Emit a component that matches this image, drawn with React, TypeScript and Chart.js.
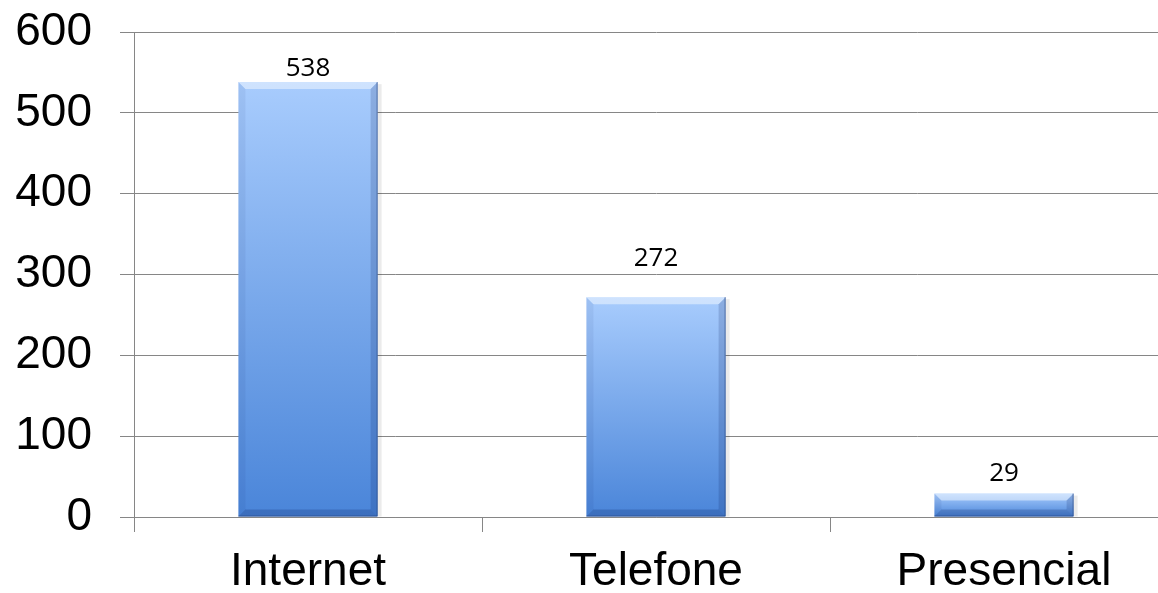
import React, { useEffect, useRef } from "react";
import { Chart, registerables } from "chart.js";

Chart.register(...registerables);

const categories = ["Internet", "Telefone", "Presencial"];
const values = [538, 272, 29];
const yMin = 0;
const yMax = 600;
const yStep = 100;

const AXIS_FONT = '"Liberation Sans", Arial, sans-serif';
const LABEL_FONT = '"Open Sans", "Liberation Sans", sans-serif';
const GRID = "#868686";

function poly(ctx: CanvasRenderingContext2D, pts: number[][], fill: string) {
  ctx.beginPath();
  ctx.moveTo(pts[0][0], pts[0][1]);
  for (let i = 1; i < pts.length; i++) ctx.lineTo(pts[i][0], pts[i][1]);
  ctx.closePath();
  ctx.fillStyle = fill;
  ctx.fill();
}

const bevelPlugin = {
  id: "bevel",
  beforeDatasetsDraw(chart: any) {
    const ctx = chart.ctx as CanvasRenderingContext2D;
    const meta = chart.getDatasetMeta(0);
    ctx.save();
    meta.data.forEach((bar: any) => {
      const { x, y, base, width } = bar.getProps(["x", "y", "base", "width"], true);
      const l = x - width / 2;
      ctx.fillStyle = "rgba(0,0,0,0.08)";
      ctx.fillRect(l + 2, y + 2, width + 2, base - y - 2);
    });
    ctx.restore();
  },
  afterDatasetsDraw(chart: any) {
    const ctx = chart.ctx as CanvasRenderingContext2D;
    const meta = chart.getDatasetMeta(0);
    ctx.save();
    meta.data.forEach((bar: any) => {
      const { x, y, base, width } = bar.getProps(["x", "y", "base", "width"], true);
      const l = x - width / 2;
      const r = x + width / 2;
      const t = y;
      const b = base;
      const h = b - t;
      const d = Math.min(7, h / 3);
      poly(ctx, [[l, t], [r, t], [r - d, t + d], [l + d, t + d]], "rgba(255,255,255,0.45)");
      poly(ctx, [[l, t], [l + d, t + d], [l + d, b - d], [l, b]], "rgba(0,20,80,0.06)");
      poly(ctx, [[r, t], [r, b], [r - d, b - d], [r - d, t + d]], "rgba(0,20,80,0.16)");
      poly(ctx, [[l, b], [l + d, b - d], [r - d, b - d], [r, b]], "rgba(0,20,80,0.2)");
      ctx.strokeStyle = "rgba(40,70,130,0.6)";
      ctx.lineWidth = 1;
      ctx.beginPath();
      ctx.moveTo(r - 0.5, t);
      ctx.lineTo(r - 0.5, b - 0.5);
      ctx.lineTo(l, b - 0.5);
      ctx.stroke();
    });
    ctx.restore();
  },
};

const labelOffsets = [14, 39, 20];

const dataLabelPlugin = {
  id: "dataLabels",
  afterDatasetsDraw(chart: any) {
    const ctx = chart.ctx as CanvasRenderingContext2D;
    const meta = chart.getDatasetMeta(0);
    const data = chart.data.datasets[0].data as number[];
    ctx.save();
    ctx.font = `26px ${LABEL_FONT}`;
    ctx.fillStyle = "#000";
    ctx.textAlign = "center";
    ctx.textBaseline = "middle";
    meta.data.forEach((bar: any, i: number) => {
      const { x, y } = bar.getProps(["x", "y"], true);
      ctx.fillText(String(data[i]), x, y - (labelOffsets[i] ?? 16));
    });
    ctx.restore();
  },
};

export default function App() {
  const canvasRef = useRef<HTMLCanvasElement | null>(null);

  useEffect(() => {
    const canvas = canvasRef.current;
    if (!canvas) return;
    const chart = new Chart(canvas, {
      type: "bar",
      data: {
        labels: categories,
        datasets: [
          {
            data: values,
            backgroundColor: (c: any) => {
              const ch = c.chart;
              const { ctx, chartArea, scales } = ch;
              if (!chartArea || c.type !== "data" || !scales?.y) return "#7faaf0";
              const yTop = scales.y.getPixelForValue(c.raw);
              const yBot = scales.y.getPixelForValue(0);
              const g = ctx.createLinearGradient(0, yTop, 0, yBot);
              g.addColorStop(0, "#a8ccfd");
              g.addColorStop(1, "#4a85d9");
              return g;
            },
            borderWidth: 0,
            categoryPercentage: 1,
            barPercentage: 0.4,
          },
        ],
      },
      options: {
        responsive: false,
        animation: false,
        devicePixelRatio: 1,
        layout: { padding: { top: 32, left: 0, right: 0, bottom: 0 } },
        plugins: {
          legend: { display: false },
          tooltip: { enabled: false },
          title: { display: false },
        },
        scales: {
          x: {
            offset: true,
            grid: {
              offset: true,
              drawOnChartArea: false,
              drawTicks: true,
              tickLength: 15,
              color: GRID,
            },
            border: { display: true, color: GRID },
            ticks: {
              color: "#000",
              font: { family: AXIS_FONT, size: 46 },
              padding: 13,
              maxRotation: 0,
              autoSkip: false,
            },
            afterFit: (scale: any) => {
              scale.height = 76;
              scale.paddingLeft = 0;
              scale.paddingRight = 0;
            },
          },
          y: {
            min: yMin,
            max: yMax,
            grid: { color: GRID, tickLength: 14 },
            border: { display: true, color: GRID },
            ticks: {
              stepSize: yStep,
              color: "#000",
              font: { family: AXIS_FONT, size: 46 },
              padding: 28,
            },
            afterFit: (scale: any) => {
              scale.width = 134;
              scale.paddingTop = 0;
              scale.paddingBottom = 0;
            },
          },
        },
      },
      plugins: [bevelPlugin, dataLabelPlugin],
    });
    return () => chart.destroy();
  }, []);

  return (
    <div
      style={{
        position: "fixed",
        left: 0,
        top: 0,
        width: 1158,
        height: 593,
        overflow: "hidden",
        background: "#fff",
      }}
    >
      <canvas ref={canvasRef} width={1178} height={593} style={{ display: "block" }} />
    </div>
  );
}
